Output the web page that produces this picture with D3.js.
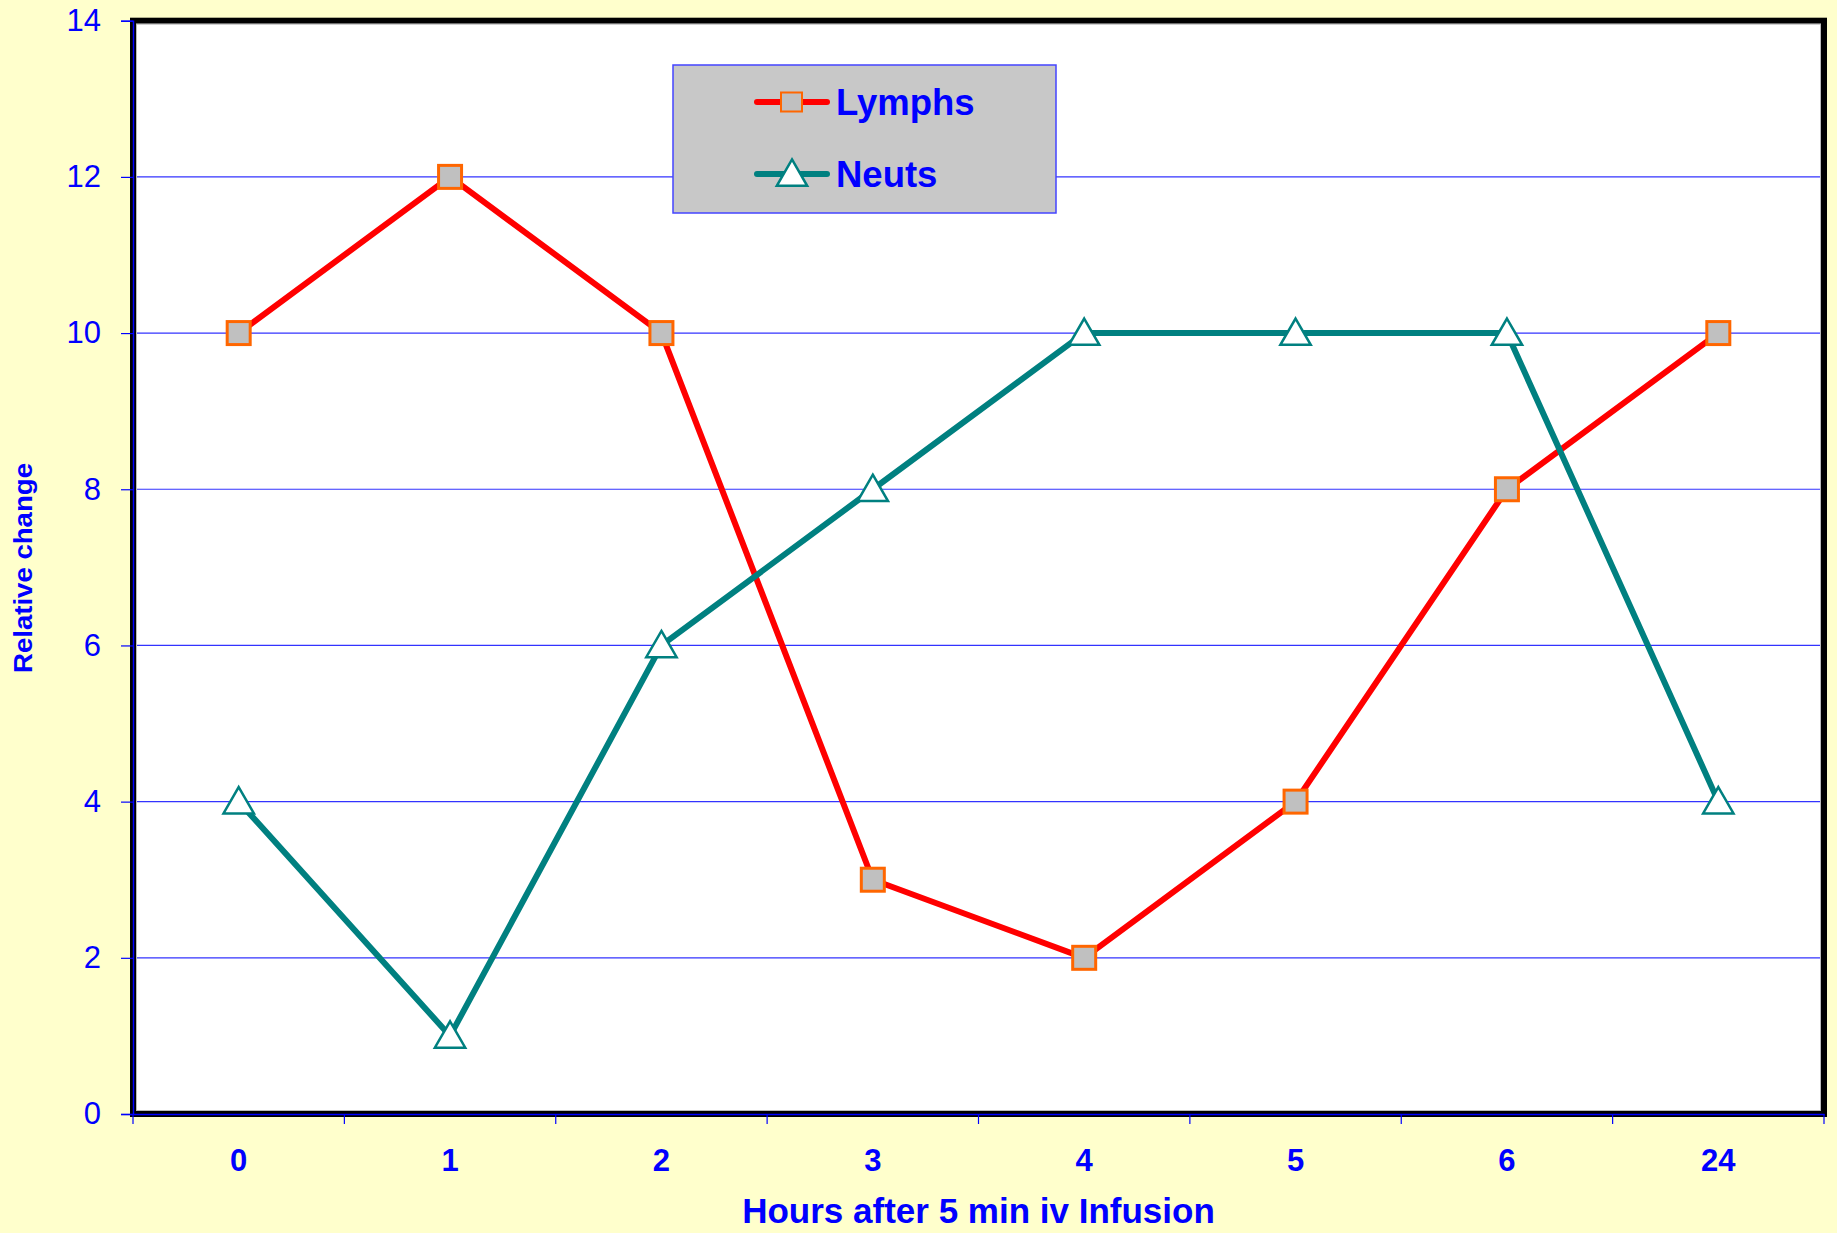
<!DOCTYPE html>
<html><head><meta charset="utf-8">
<script src="https://cdn.jsdelivr.net/npm/d3@7"></script>
<style>
html,body{margin:0;padding:0;background:#ffffcc;}
svg{display:block;}
text{font-family:"Liberation Sans",Arial,sans-serif;}
</style></head>
<body>
<script>
const categories = ["0","1","2","3","4","5","6","24"];
const lymphs = [10,12,10,3,2,4,8,10];
const neuts = [4,1,6,8,10,10,10,4];
const yTicks = [0,2,4,6,8,10,12,14];
const seriesNames = ["Lymphs","Neuts"];

const W = 1837, H = 1233;
const L = 133, R = 1824, T = 20.7, B = 1114;
const svg = d3.select("body").append("svg").attr("width", W).attr("height", H);
svg.append("rect").attr("width", W).attr("height", H).attr("fill", "#ffffcc");

const x = d3.scaleBand().domain(categories).range([L, R]);
const y = d3.scaleLinear().domain([0, 14]).range([B, T]);
const cx = d => x(d) + x.bandwidth() / 2;

// plot area
svg.append("rect").attr("x", L).attr("y", T).attr("width", R - L).attr("height", B - T).attr("fill", "#fff");

// gridlines
svg.append("g").selectAll("line").data(yTicks.filter(t => t > 0 && t < 14)).join("line")
  .attr("x1", L).attr("x2", R).attr("y1", d => y(d)).attr("y2", d => y(d))
  .attr("stroke", "#3333ff").attr("stroke-width", 1.2);

// frame
svg.append("rect").attr("x", L).attr("y", T).attr("width", R - L).attr("height", B - T)
  .attr("fill", "none").attr("stroke", "#000").attr("stroke-width", 6);
svg.append("rect").attr("x", L + 3.5).attr("y", T + 3.5).attr("width", R - L - 7).attr("height", B - T - 7)
  .attr("fill", "none").attr("stroke", "#bbb").attr("stroke-width", 1);

// y axis
const yAxis = d3.axisLeft(y).tickValues(yTicks).tickSize(12).tickPadding(20).tickFormat(d3.format("d"));
const gy = svg.append("g").attr("transform", `translate(${L},0)`).call(yAxis);
gy.select(".domain").attr("stroke", "#0000ff").attr("stroke-width", 1.5);
gy.selectAll(".tick line").attr("stroke", "#0000ff").attr("stroke-width", 1.2);
gy.selectAll(".tick text").attr("fill", "#0000ff").attr("font-size", 31).attr("font-family", "Liberation Sans, Arial");

// x axis
const xAxis = d3.axisBottom(x).tickSize(0).tickPadding(0);
const gx = svg.append("g").attr("transform", `translate(0,${B})`).call(xAxis);
gx.select(".domain").attr("stroke", "#0000ff").attr("stroke-width", 1.5);
gx.selectAll(".tick text").attr("fill", "#0000ff").attr("font-size", 31).attr("font-weight", "bold")
  .attr("font-family", "Liberation Sans, Arial").attr("dy", 0).attr("y", 57);
// x tick marks at band edges
const edges = categories.map(c => x(c)).concat([R]);
svg.append("g").selectAll("line").data(edges).join("line")
  .attr("x1", d => d).attr("x2", d => d).attr("y1", B).attr("y2", B + 10)
  .attr("stroke", "#0000ff").attr("stroke-width", 1.2);

// lines
const line = d3.line().x((d, i) => cx(categories[i])).y(d => y(d));
svg.append("path").datum(lymphs).attr("d", line).attr("fill", "none").attr("stroke", "#ff0000").attr("stroke-width", 6).attr("stroke-linejoin", "round");
svg.append("path").datum(neuts).attr("d", line).attr("fill", "none").attr("stroke", "#008080").attr("stroke-width", 6).attr("stroke-linejoin", "round");

const sq = 23;
svg.append("g").selectAll("rect").data(lymphs).join("rect")
  .attr("x", (d, i) => cx(categories[i]) - sq / 2).attr("y", d => y(d) - sq / 2)
  .attr("width", sq).attr("height", sq).attr("fill", "#c0c0c0").attr("stroke", "#ff6600").attr("stroke-width", 3);

const tri = d3.symbol().type(d3.symbolTriangle).size(400);
svg.append("g").selectAll("path").data(neuts).join("path")
  .attr("d", tri).attr("transform", (d, i) => `translate(${cx(categories[i])},${y(d) + 3})`)
  .attr("fill", "#fff").attr("stroke", "#008080").attr("stroke-width", 2.5);

// legend
const lg = svg.append("g");
lg.append("rect").attr("x", 673).attr("y", 65).attr("width", 383).attr("height", 148)
  .attr("fill", "#c8c8c8").attr("stroke", "#4444ff").attr("stroke-width", 1.5);
const legY = [102, 174];
lg.append("line").attr("x1", 757).attr("x2", 827).attr("y1", legY[0]).attr("y2", legY[0])
  .attr("stroke", "#ff0000").attr("stroke-width", 6).attr("stroke-linecap", "round");
lg.append("rect").attr("x", 792 - 11).attr("y", legY[0] - 9.5).attr("width", 21).attr("height", 19)
  .attr("fill", "#c0c0c0").attr("stroke", "#ff6600").attr("stroke-width", 2);
lg.append("line").attr("x1", 757).attr("x2", 827).attr("y1", legY[1]).attr("y2", legY[1])
  .attr("stroke", "#008080").attr("stroke-width", 6).attr("stroke-linecap", "round");
lg.append("path").attr("d", tri).attr("transform", `translate(792,${legY[1] + 3})`)
  .attr("fill", "#fff").attr("stroke", "#008080").attr("stroke-width", 2.5);
lg.selectAll("text").data(seriesNames).join("text")
  .attr("x", 836).attr("y", (d, i) => legY[i] + 13).text(d => d)
  .attr("fill", "#0000ff").attr("font-size", 36.5).attr("font-weight", "bold");

// axis titles
svg.append("text").attr("x", (L + R) / 2).attr("y", 1223).attr("text-anchor", "middle")
  .attr("fill", "#0000ff").attr("font-size", 35).attr("font-weight", "bold").text("Hours after 5 min iv Infusion");
svg.append("text").attr("transform", "translate(32,568) rotate(-90)").attr("text-anchor", "middle")
  .attr("fill", "#0000ff").attr("font-size", 26).attr("font-weight", "bold")
  .attr("textLength", 210).attr("lengthAdjust", "spacingAndGlyphs").text("Relative change");
</script>
</body></html>
